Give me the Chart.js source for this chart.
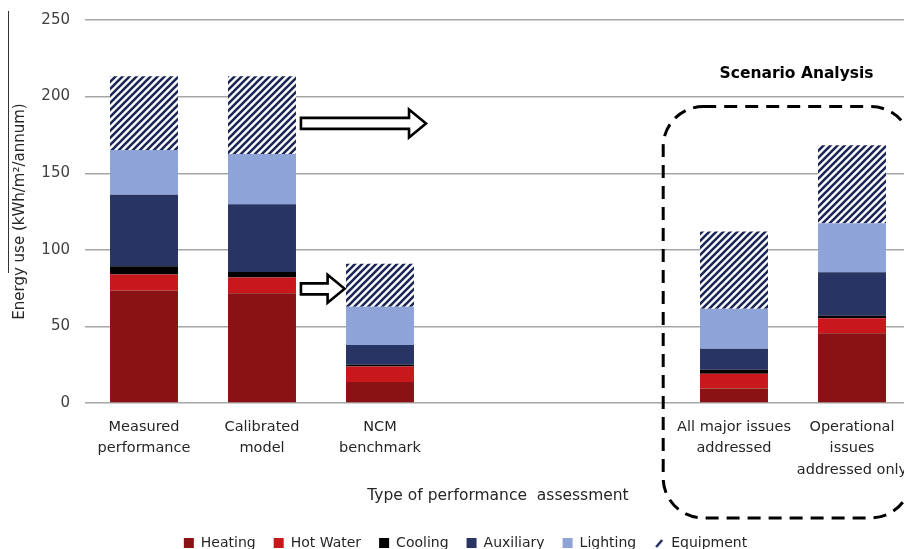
<!DOCTYPE html>
<html>
<head>
<meta charset="utf-8">
<script src="https://cdn.jsdelivr.net/npm/chart.js@4.4.1/dist/chart.umd.min.js"></script>
<style>
    html, body { margin: 0; padding: 0; background: #fff; width: 904px; height: 549px; overflow: hidden; }
    #chart { display: block; margin-top: -4px; }
</style>
</head>
<body>
<canvas id="chart" width="940" height="564"></canvas>
<script>
// categories (two blank slots sit between the benchmark and the scenarios)
const categories = [
    ['Measured', 'performance'],
    ['Calibrated', 'model'],
    ['NCM', 'benchmark'],
    '',
    '',
    ['All major issues', 'addressed'],
    ['Operational', 'issues', 'addressed only']
];

// energy use, kWh/m²/annum, stacked bottom to top
const heating   = [73.4, 71.6, 13.7, null, null,  9.4, 45.6];
const hotWater  = [10.4, 10.4, 10.2, null, null,  9.7,  9.7];
const cooling   = [ 5.4,  3.5,  1.0, null, null,  2.6,  1.8];
const auxiliary = [46.7, 44.3, 13.0, null, null, 13.7, 28.2];
const lighting  = [29.3, 32.8, 25.0, null, null, 26.1, 32.1];
const equipment = [48.1, 50.7, 28.0, null, null, 50.5, 50.8];

const yTicks = [0, 50, 100, 150, 200, 250];

// annotations, in category index / data units
const arrows = [
    { from: 1.33, to: 2.39, y: 182.5 },
    { from: 1.33, to: 1.70, y: 74.5 }
];
const scenarioBox = { x0: 4.40, x1: 6.50, yTop: 193.5, yBottom: -75 };
const scenarioLabel = { text: 'Scenario Analysis', x: 5.53, y: 214.5 };
const yTitle = 'Energy use (kWh/m\u00b2/annum)';

Chart.defaults.font.family = "'DejaVu Sans', Verdana, sans-serif";
Chart.defaults.color = '#404040';

function makeHatch() {
    const s = 7;
    const c = document.createElement('canvas');
    c.width = s; c.height = s;
    const g = c.getContext('2d');
    g.fillStyle = '#ffffff';
    g.fillRect(0, 0, s, s);
    g.strokeStyle = '#1c2757';
    g.lineWidth = 2.6;
    g.beginPath();
    g.moveTo(-1, s + 1); g.lineTo(s + 1, -1);
    g.moveTo(-1, 1); g.lineTo(1, -1);
    g.moveTo(s - 1, s + 1); g.lineTo(s + 1, s - 1);
    g.stroke();
    return g.createPattern(c, 'repeat');
}

function makeEquipIcon() {
    const c = document.createElement('canvas');
    c.width = 10; c.height = 10;
    const g = c.getContext('2d');
    g.strokeStyle = '#1c2757';
    g.lineWidth = 2.4;
    g.beginPath();
    g.moveTo(2, 9); g.lineTo(8, 2);
    g.stroke();
    return c;
}

const hatch = makeHatch();
const equipIcon = makeEquipIcon();

const annotations = {
    id: 'annotations',
    afterDatasetsDraw(chart) {
        const { ctx, scales: { x, y } } = chart;
        ctx.save();

        // stray rule at far left of the original figure
        ctx.strokeStyle = '#333';
        ctx.lineWidth = 1;
        ctx.beginPath();
        ctx.moveTo(8.5, 15); ctx.lineTo(8.5, 277);
        ctx.stroke();

        // y title
        ctx.save();
        ctx.translate(20, (chart.chartArea.top + chart.chartArea.bottom) / 2);
        ctx.rotate(-Math.PI / 2);
        ctx.fillStyle = '#262626';
        ctx.font = "15px 'DejaVu Sans'";
        ctx.textAlign = 'center';
        ctx.textBaseline = 'middle';
        ctx.fillText(yTitle, 0, 0);
        ctx.restore();

        // hollow block arrows
        arrows.forEach(a => {
            const x0 = x.getPixelForValue(a.from);
            const x1 = x.getPixelForValue(a.to);
            const yc = y.getPixelForValue(a.y);
            const sh = 5.5, hh = 14, hl = 17;
            ctx.beginPath();
            ctx.moveTo(x0, yc - sh);
            ctx.lineTo(x1 - hl, yc - sh);
            ctx.lineTo(x1 - hl, yc - hh);
            ctx.lineTo(x1, yc);
            ctx.lineTo(x1 - hl, yc + hh);
            ctx.lineTo(x1 - hl, yc + sh);
            ctx.lineTo(x0, yc + sh);
            ctx.closePath();
            ctx.fillStyle = '#fff';
            ctx.fill();
            ctx.strokeStyle = '#000';
            ctx.lineWidth = 2.6;
            ctx.lineJoin = 'miter';
            ctx.stroke();
        });

        // dashed rounded box round the scenarios
        const bx0 = x.getPixelForValue(scenarioBox.x0);
        const bx1 = x.getPixelForValue(scenarioBox.x1);
        const by0 = y.getPixelForValue(scenarioBox.yTop);
        const by1 = y.getPixelForValue(scenarioBox.yBottom);
        ctx.beginPath();
        ctx.roundRect(bx0, by0, bx1 - bx0, by1 - by0, 40);
        ctx.setLineDash([13, 8]);
        ctx.lineWidth = 3;
        ctx.strokeStyle = '#000';
        ctx.stroke();
        ctx.setLineDash([]);

        // label
        ctx.fillStyle = '#000';
        ctx.font = "bold 15.5px 'DejaVu Sans'";
        ctx.textAlign = 'center';
        ctx.textBaseline = 'middle';
        ctx.fillText(scenarioLabel.text, x.getPixelForValue(scenarioLabel.x), y.getPixelForValue(scenarioLabel.y));

        ctx.restore();
    }
};

const ctx = document.getElementById('chart').getContext('2d');
new Chart(ctx, {
    type: 'bar',
    data: {
        labels: categories,
        datasets: [
            { label: 'Heating',   data: heating,   backgroundColor: '#8b1214' },
            { label: 'Hot Water', data: hotWater,  backgroundColor: '#c8181c' },
            { label: 'Cooling',   data: cooling,   backgroundColor: '#000000' },
            { label: 'Auxiliary', data: auxiliary, backgroundColor: '#283463' },
            { label: 'Lighting',  data: lighting,  backgroundColor: '#8ea3d8' },
            { label: 'Equipment', data: equipment, backgroundColor: hatch }
        ]
    },
    options: {
        responsive: false,
        animation: false,
        layout: { padding: { left: 20, right: 29, top: 14, bottom: 0 } },
        datasets: {
            bar: { barPercentage: 0.576, categoryPercentage: 1, borderWidth: 0 }
        },
        plugins: {
            tooltip: { enabled: false },
            legend: {
                position: 'bottom',
                labels: {
                    usePointStyle: true,
                    boxWidth: 10,
                    boxHeight: 10,
                    padding: 18,
                    color: '#262626',
                    font: { size: 14 },
                    generateLabels(chart) {
                        const items = Chart.defaults.plugins.legend.labels.generateLabels(chart);
                        items.forEach(it => {
                            if (it.text === 'Equipment') {
                                it.pointStyle = equipIcon;
                            } else {
                                it.pointStyle = 'rect';
                            }
                            it.lineWidth = 0;
                        });
                        return items;
                    }
                }
            }
        },
        scales: {
            x: {
                stacked: true,
                grid: { display: false, drawTicks: false },
                border: { display: false },
                ticks: {
                    color: '#262626',
                    padding: 13,
                    maxRotation: 0,
                    autoSkip: false,
                    font: { size: 14.5, lineHeight: 1.5 }
                },
                title: {
                    display: true,
                    text: 'Type of performance  assessment',
                    color: '#262626',
                    font: { size: 15.5 },
                    padding: { top: 4, bottom: 13 }
                },
                afterFit(scale) { scale.height = 115; }
            },
            y: {
                stacked: true,
                min: 0,
                max: 250,
                afterBuildTicks(scale) { scale.ticks = yTicks.map(v => ({ value: v })); },
                grid: { color: '#a6a6a6', lineWidth: 1.4, drawTicks: false },
                border: { display: false },
                ticks: { color: '#404040', padding: 15, font: { size: 15 } },
                afterFit(scale) { scale.width = 65; }
            }
        }
    },
    plugins: [annotations]
});
</script>
</body>
</html>
